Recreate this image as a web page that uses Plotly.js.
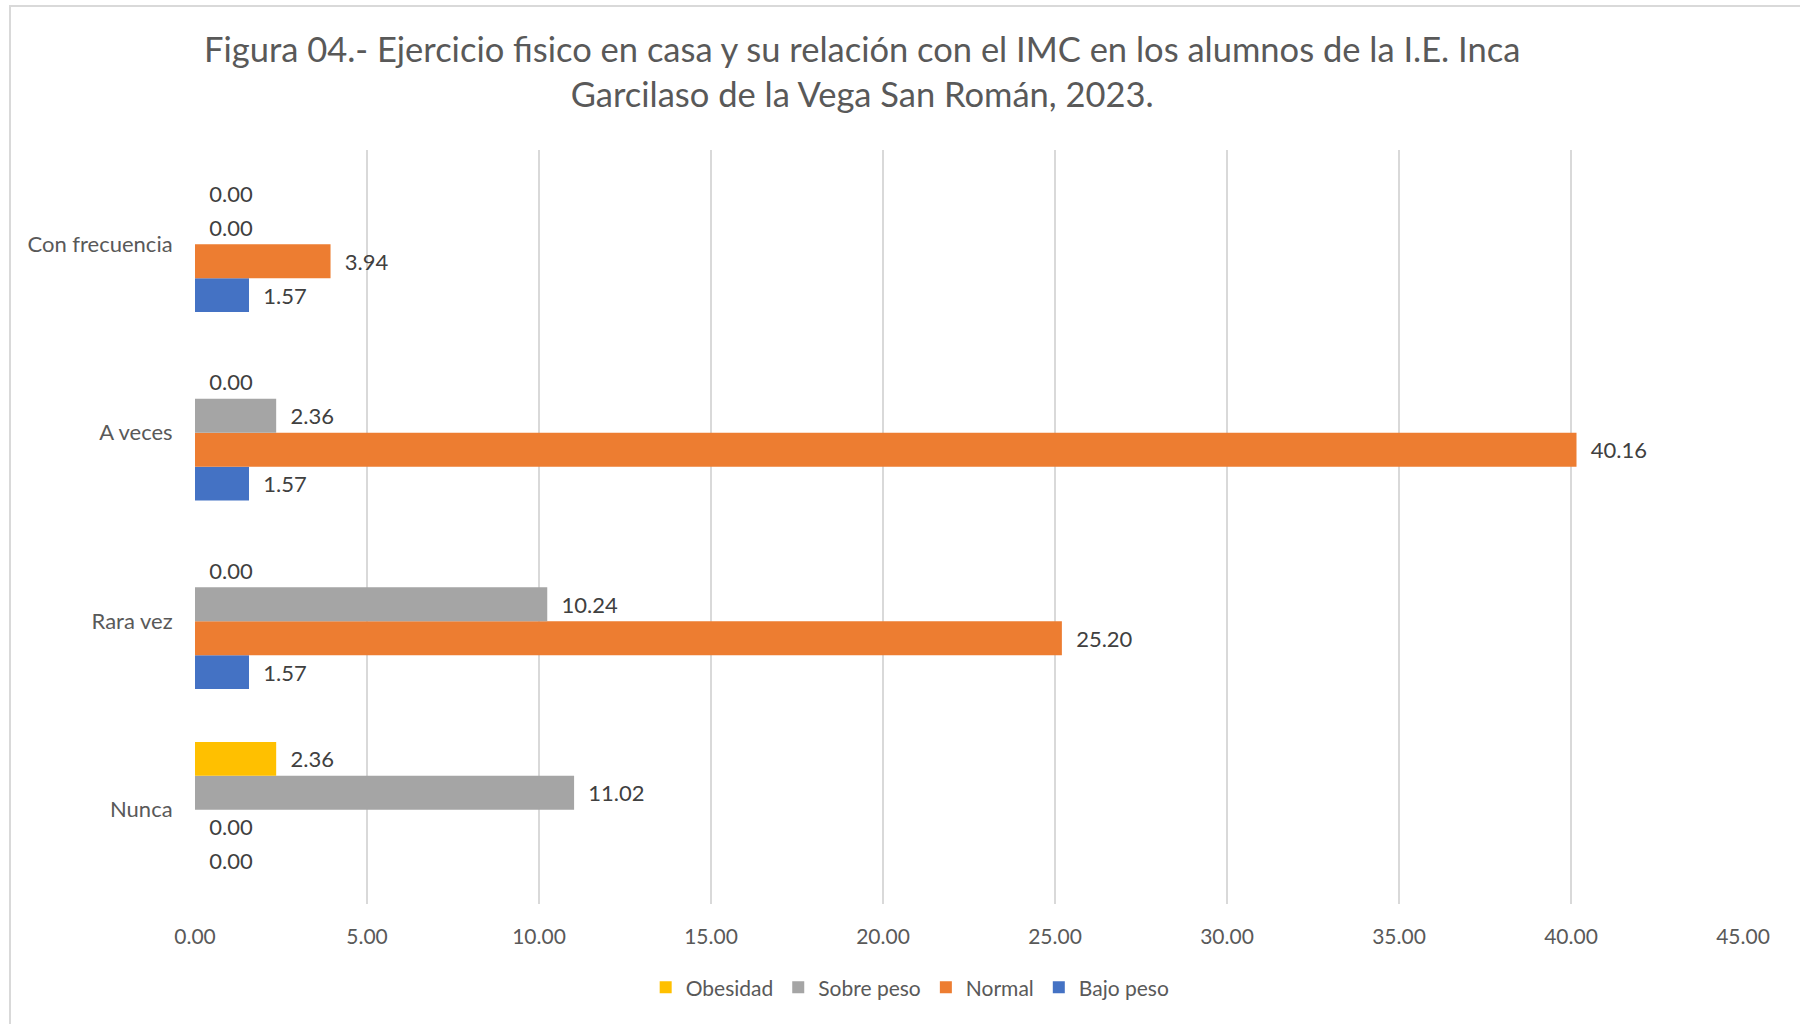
<!DOCTYPE html>
<html>
<head>
<meta charset="utf-8">
<script src="https://cdn.plot.ly/plotly-3.0.1.min.js"></script>
<style>
  html, body { margin: 0; padding: 0; width: 1800px; height: 1024px; overflow: hidden; background: #ffffff; }
  #frame { position: absolute; left: 9px; top: 5px; width: 2000px; height: 2000px; border-left: 2.5px solid #d9d9d9; border-top: 2.5px solid #d9d9d9; }
  #chart { position: absolute; left: 0; top: 0; width: 1800px; height: 1024px; }
</style>
</head>
<body>
<div id="frame"></div>
<div id="chart"></div>
<script>
const categories = ["Nunca", "Rara vez", "A veces", "Con frecuencia"];
const bajoPeso  = [0.00, 1.57, 1.57, 1.57];
const normal    = [0.00, 25.20, 40.16, 3.94];
const sobrePeso = [11.02, 10.24, 2.36, 0.00];
const obesidad  = [2.36, 0.00, 0.00, 0.00];
const xTicks = [0, 5, 10, 15, 20, 25, 30, 35, 40, 45];

const FONT = "Lato, 'Open Sans', sans-serif";
const colors = { bajo: "#4472C4", normal: "#ED7D31", sobre: "#A5A5A5", obes: "#FFC000" };

function mk(name, vals, color) {
  return {
    type: "bar", orientation: "h", name: name,
    y: categories, x: vals,
    marker: { color: color },
    texttemplate: "\u00a0\u00a0%{x:.2f}",
    textposition: "outside",
    constraintext: "none",
    cliponaxis: false,
    textfont: { family: FONT, size: 22, color: "#404040" },
    hoverinfo: "skip"
  };
}

const data = [
  mk("Bajo peso", bajoPeso, colors.bajo),
  mk("Normal", normal, colors.normal),
  mk("Sobre peso", sobrePeso, colors.sobre),
  mk("Obesidad", obesidad, colors.obes)
];

const layout = {
  width: 1800, height: 1024,
  paper_bgcolor: "rgba(0,0,0,0)", plot_bgcolor: "rgba(0,0,0,0)",
  margin: { l: 195, r: 57, t: 150, b: 120, pad: 0 },
  barmode: "group", bargap: 0.28, bargroupgap: 0,
  font: { family: FONT, color: "#595959", size: 21 },
  title: {
    text: "Figura 04.- Ejercicio fisico en casa y su relación con el IMC en los alumnos de la I.E. Inca<br>Garcilaso de la Vega San Román, 2023.",
    font: { family: FONT, size: 34.5, color: "#595959" },
    xref: "container", x: 0.479, xanchor: "center",
    yref: "container", y: 1 - 62/1024, yanchor: "top"
  },
  xaxis: {
    range: [0, 45], tickvals: xTicks, ticktext: xTicks.map(v => v.toFixed(2)),
    showgrid: true, gridcolor: "#d9d9d9", gridwidth: 2,
    zeroline: false, showline: false,
    ticks: "outside", ticklen: 14, tickcolor: "rgba(0,0,0,0)",
    tickfont: { family: FONT, size: 21, color: "#595959" },
    fixedrange: true
  },
  yaxis: {
    type: "category", categoryorder: "array", categoryarray: categories,
    showgrid: false, zeroline: false, showline: false,
    ticks: "outside", ticklen: 17, tickcolor: "rgba(0,0,0,0)",
    tickfont: { family: FONT, size: 22, color: "#595959" },
    fixedrange: true
  },
  legend: {
    orientation: "h", traceorder: "reversed",
    x: 0.462, xanchor: "center", y: -0.111, yanchor: "middle",
    font: { family: FONT, size: 21, color: "#595959" },
    bgcolor: "rgba(0,0,0,0)", itemwidth: 30
  },
  showlegend: true
};

Plotly.newPlot("chart", data, layout, { displayModeBar: false, staticPlot: true });
</script>
</body>
</html>
